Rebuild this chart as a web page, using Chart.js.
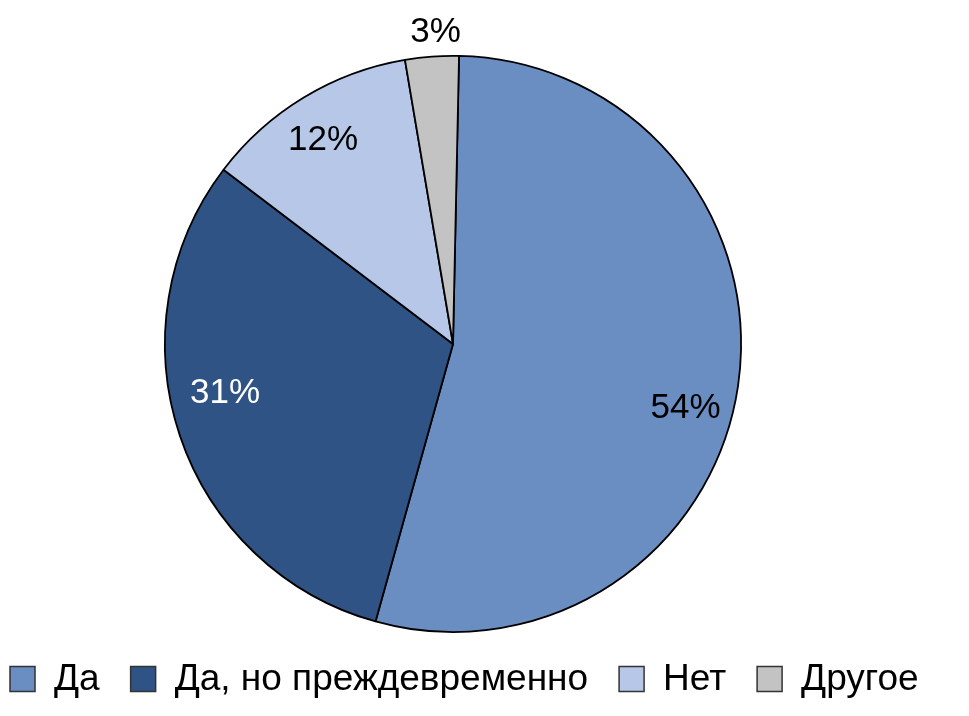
<!DOCTYPE html>
<html>
<head>
<meta charset="utf-8">
<script src="https://cdn.jsdelivr.net/npm/chart.js@4"></script>
<style>
  body { margin: 0; background: #fff; }
  #wrap { width: 969px; height: 716px; }
</style>
</head>
<body>
<div id="wrap"><canvas id="grafico"></canvas></div>
<script>
const categorias = ['Да', 'Да, но преждевременно', 'Нет', 'Другое'];
const valores = [54, 31, 12, 3];
const cores = ['#6a8dc2', '#2f5384', '#b7c7e8', '#c3c3c3'];
const coresRotulo = ['#000', '#fff', '#000', '#000'];

const fonte = '"Liberation Sans", Arial, sans-serif';

// where each percent label sits: angle shift (deg) and radius share
const ajusteRotulo = [[7, 0.837], [6.3, 0.81], [-1.3, 0.84], [1, 1.085]];

const rotulos = {
  id: 'rotulos',
  afterDatasetsDraw(chart) {
    const ctx = chart.ctx;
    const arcos = chart.getDatasetMeta(0).data;
    ctx.save();
    ctx.font = '35px ' + fonte;
    ctx.textAlign = 'center';
    ctx.textBaseline = 'middle';
    arcos.forEach((arco, i) => {
      const p = arco.getProps(['x', 'y', 'startAngle', 'endAngle', 'outerRadius']);
      const meio = (p.startAngle + p.endAngle) / 2 + ajusteRotulo[i][0] * Math.PI / 180;
      const r = p.outerRadius * ajusteRotulo[i][1];
      ctx.fillStyle = coresRotulo[i];
      ctx.fillText(valores[i] + '%', p.x + Math.cos(meio) * r, p.y + Math.sin(meio) * r);
    });
    ctx.restore();
  }
};

// legend in one row across the whole canvas, like the original
const legenda = {
  id: 'legenda',
  afterDraw(chart) {
    const ctx = chart.ctx;
    const caixa = 25, folga = 19, entre = 31;
    const yMeio = 679;
    let x = 10;
    ctx.save();
    ctx.font = '37px ' + fonte;
    ctx.textBaseline = 'middle';
    categorias.forEach((nome, i) => {
      ctx.fillStyle = cores[i];
      ctx.fillRect(x, yMeio - caixa / 2, caixa, caixa);
      ctx.strokeStyle = '#333';
      ctx.lineWidth = 1.5;
      ctx.strokeRect(x, yMeio - caixa / 2, caixa, caixa);
      x += caixa + folga;
      ctx.fillStyle = '#000';
      ctx.fillText(nome, x, yMeio + 1);
      x += ctx.measureText(nome).width + entre;
    });
    ctx.restore();
  }
};

const grafico = new Chart(document.querySelector('#grafico'), {
  type: 'pie',
  data: {
    labels: categorias,
    datasets: [{
      data: valores,
      backgroundColor: cores,
      borderColor: '#000',
      borderWidth: 1.8
    }]
  },
  options: {
    responsive: true,
    maintainAspectRatio: false,
    animation: false,
    rotation: 1.2,
    layout: { padding: { top: 55, left: 0, right: 63, bottom: 83 } },
    plugins: {
      tooltip: { enabled: false },
      legend: { display: false }
    }
  },
  plugins: [rotulos, legenda]
});
</script>
</body>
</html>
